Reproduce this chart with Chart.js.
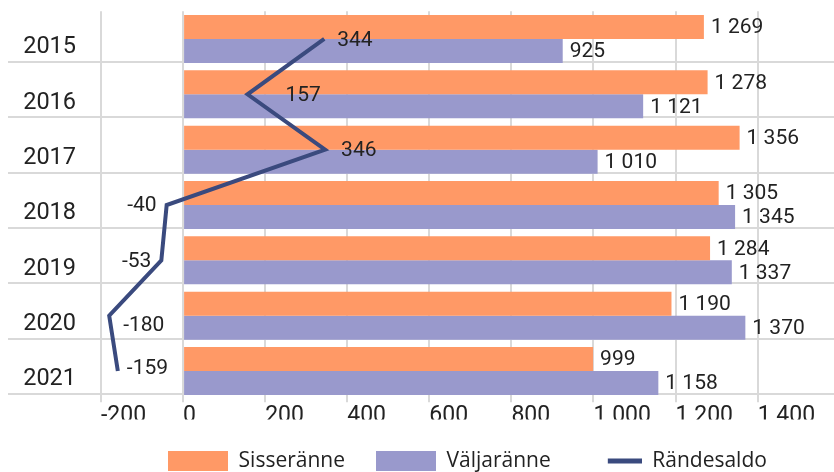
<!DOCTYPE html>
<html>
<head>
<meta charset="utf-8">
<script src="https://cdn.jsdelivr.net/npm/chart.js@4"></script>
<style>
html,body{margin:0;padding:0;background:#ffffff;}
#wrap{width:834px;height:472px;position:relative;}
</style>
</head>
<body>
<div id="wrap"><canvas id="c"></canvas></div>
<script>
// ---- data ----
const years = ['2015', '2016', '2017', '2018', '2019', '2020', '2021'];
const sisseranne = [1269, 1278, 1356, 1305, 1284, 1190, 999];
const valjaranne = [925, 1121, 1010, 1345, 1337, 1370, 1158];
const randesaldo = [344, 157, 346, -40, -53, -180, -159];
const xTickValues = [-200, 0, 200, 400, 600, 800, 1000, 1200, 1400];
const seriesNames = ['Sisseränne', 'Väljaränne', 'Rändesaldo'];

// ---- style ----
const COLORS = { inn: '#FF9966', out: '#9999CC', net: '#3A4A7E', grid: '#D9D9D9', text: '#222222' };
// placement of the Rändesaldo value labels: [textAlign, dx, dy] relative to the point
const netLabelPlacement = [
  ['left', 13, 1], ['left', 38, 0], ['left', 16, 0], ['right', -10, 0],
  ['right', -10, 0], ['left', 14, 9], ['left', 9, -3.5]
];

function fmt(v) {
  const s = Math.abs(v).toString().replace(/\B(?=(\d{3})+(?!\d))/g, ' ');
  return (v < 0 ? '-' : '') + s;
}

function makeSwatch(color, type) {
  const c = document.createElement('canvas');
  c.width = 60; c.height = 20;
  const g = c.getContext('2d');
  if (type === 'box') {
    g.fillStyle = color; g.fillRect(0, 0, 60, 20);
  } else {
    g.strokeStyle = color; g.lineWidth = 5;
    g.beginPath(); g.moveTo(26, 10); g.lineTo(60, 10); g.stroke();
  }
  return c;
}

const valueLabels = {
  id: 'valueLabels',
  afterDatasetsDraw(chart) {
    const ctx = chart.ctx;
    ctx.save();
    ctx.font = '21px Roboto';
    ctx.fillStyle = COLORS.text;
    ctx.textBaseline = 'middle';
    [0, 1].forEach(di => {
      const meta = chart.getDatasetMeta(di);
      const data = chart.data.datasets[di].data;
      meta.data.forEach((el, i) => {
        ctx.textAlign = 'left';
        ctx.fillText(fmt(data[i]), el.x + 7, el.y + 1);
      });
    });
    const lm = chart.getDatasetMeta(2);
    lm.data.forEach((pt, i) => {
      const [al, dx, dy] = netLabelPlacement[i];
      ctx.textAlign = al;
      ctx.fillText(fmt(randesaldo[i]), pt.x + dx, pt.y + dy + 1);
    });
    ctx.restore();
  }
};

const swatches = [makeSwatch(COLORS.inn, 'box'), makeSwatch(COLORS.out, 'box'), makeSwatch(COLORS.net, 'line')];

new Chart(document.getElementById('c'), {
  data: {
    labels: years,
    datasets: [
      { type: 'bar', label: seriesNames[0], data: sisseranne, backgroundColor: COLORS.inn,
        xAxisID: 'x', yAxisID: 'y', order: 2, categoryPercentage: 0.867, barPercentage: 1 },
      { type: 'bar', label: seriesNames[1], data: valjaranne, backgroundColor: COLORS.out,
        xAxisID: 'x', yAxisID: 'y', order: 2, categoryPercentage: 0.867, barPercentage: 1 },
      { type: 'line', label: seriesNames[2], data: randesaldo, borderColor: COLORS.net, backgroundColor: COLORS.net,
        borderWidth: 4, pointRadius: 0, fill: false, tension: 0, xAxisID: 'x', yAxisID: 'y', order: 1 }
    ]
  },
  options: {
    indexAxis: 'y',
    responsive: true,
    maintainAspectRatio: false,
    animation: false,
    layout: { padding: { top: 11.3, left: 0, right: 0, bottom: 0 } },
    plugins: {
      tooltip: { enabled: false },
      legend: {
        position: 'bottom',
        fullSize: false,
        maxHeight: 52.5,
        align: 'center',
        labels: {
          usePointStyle: true,
          pointStyleWidth: 60,
          boxHeight: 21,
          padding: 31,
          color: COLORS.text,
          font: { family: 'Open Sans', size: 21 },
          generateLabels: () => seriesNames.map((name, i) => ({
            text: name, pointStyle: swatches[i], fillStyle: 'transparent', strokeStyle: 'transparent',
            lineWidth: 0, hidden: false, datasetIndex: i, fontColor: COLORS.text
          }))
        }
      }
    },
    scales: {
      y: {
        type: 'category', position: 'left', weight: 10,
        grid: { display: false, drawTicks: false },
        border: { display: false },
        ticks: { font: { family: 'Roboto', size: 23.5 }, color: COLORS.text, padding: 25, labelOffset: 8.5 },
        afterFit(s) { s.width = 101; s.paddingTop = 0; s.paddingBottom = 0; }
      },
      yg: {
        type: 'linear', axis: 'y', position: 'left', weight: 0, reverse: true,
        min: 0.084, max: 7.084,
        grid: { color: COLORS.grid, lineWidth: 2, drawTicks: true, tickLength: 93 },
        border: { display: false },
        ticks: { display: false, stepSize: 1 },
        afterBuildTicks(s) { s.ticks = years.map((_, i) => ({ value: i + 1 })); },
        afterFit(s) { s.width = 0; s.paddingTop = 0; s.paddingBottom = 0; }
      },
      x: {
        type: 'linear', position: 'bottom', min: -200, max: 1586,
        grid: { color: COLORS.grid, lineWidth: 2, tickLength: 3.5 },
        border: { display: false },
        ticks: { align: 'start', padding: 0, font: { family: 'Roboto', size: 23 }, color: COLORS.text,
                 callback: v => fmt(v) },
        afterBuildTicks(s) { s.ticks = xTickValues.map(v => ({ value: v })); },
        afterFit(s) { s.height = 20.8; s.paddingLeft = 0; s.paddingRight = 0; }
      }
    }
  },
  plugins: [valueLabels]
});
</script>
</body>
</html>
